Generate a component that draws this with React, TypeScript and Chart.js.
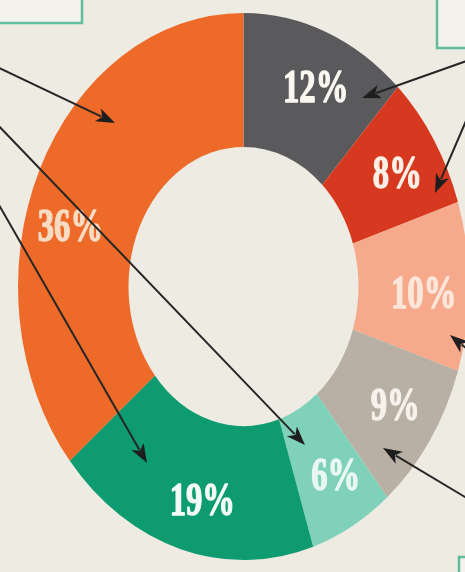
import React, { useEffect, useRef } from "react";
import { Chart, registerables } from "chart.js";

Chart.register(...registerables);

// ---- data ----
const segmentNames = ["Segment A", "Segment B", "Segment C", "Segment D", "Segment E", "Segment F", "Segment G"];
const shareValues = [12, 8, 10, 9, 6, 19, 36];
const shareLabels = ["12%", "8%", "10%", "9%", "6%", "19%", "36%"];

// ---- styles ----
const segmentColors = ["#5a5a5c", "#d6391f", "#f6a98b", "#b8b0a5", "#80d1ba", "#0d9b6f", "#ee6a28"];
const labelColors = ["#fbf8f2", "#fbefe6", "#fbe6da", "#f6f1ea", "#e9f7f2", "#f4faf6", "#f7dcc4"];
const labelNudgeDeg = [2, 1, 1.5, -1.5, -2, -3, -9];
const V_STRETCH = 1.213;

// annotation decorations (arrows: [x1, y1, tipX, tipY])
const arrowLines = [
  [-5, 66, 115, 123],
  [-5, 122, 305, 445],
  [-5, 198, 147, 463],
  [475, 58, 362, 98],
  [475, 100, 435, 193],
  [478, 358, 450, 335],
  [475, 503, 383, 448],
];
const frameBoxes = [
  [-5, -5, 87, 28],
  [437, -5, 40, 53],
  [459, 557, 30, 30],
];

const donutDecor = {
  id: "donutDecor",
  beforeDraw(chart: any) {
    const ctx = chart.ctx;
    ctx.save();
    ctx.strokeStyle = "#60bd9e";
    ctx.lineWidth = 2.5;
    ctx.fillStyle = "#f4f2ec";
    frameBoxes.forEach(([x, y, w, h]) => {
      ctx.fillRect(x, y, w, h);
      ctx.strokeRect(x, y, w, h);
    });
    ctx.restore();
  },
  beforeDatasetsDraw(chart: any) {
    const el = chart.getDatasetMeta(0).data[0];
    const cy = el.y;
    const ctx = chart.ctx;
    ctx.save();
    ctx.translate(0, cy);
    ctx.scale(1, V_STRETCH);
    ctx.translate(0, -cy);
  },
  afterDatasetsDraw(chart: any) {
    const ctx = chart.ctx;
    const meta = chart.getDatasetMeta(0);
    meta.data.forEach((el: any, i: number) => {
      const p = el.getProps(["x", "y", "startAngle", "endAngle", "innerRadius", "outerRadius"], true);
      const mid = (p.startAngle + p.endAngle) / 2 + (labelNudgeDeg[i] * Math.PI) / 180;
      const r = p.innerRadius + (p.outerRadius - p.innerRadius) * 0.59;
      const px = p.x + Math.cos(mid) * r;
      const py = p.y + Math.sin(mid) * r;
      ctx.save();
      ctx.translate(px, py);
      ctx.scale(0.86, 1);
      ctx.font = "bold 38px 'Liberation Serif', 'DejaVu Serif', serif";
      ctx.textAlign = "center";
      ctx.textBaseline = "alphabetic";
      ctx.fillStyle = labelColors[i];
      ctx.strokeStyle = labelColors[i];
      ctx.lineWidth = 1.2;
      ctx.lineJoin = "round";
      ctx.fillText(shareLabels[i], 0, 13);
      ctx.strokeText(shareLabels[i], 0, 13);
      ctx.restore();
    });
    ctx.restore();
  },
  afterDraw(chart: any) {
    const ctx = chart.ctx;
    ctx.save();
    ctx.strokeStyle = "#262626";
    ctx.fillStyle = "#1e1e1e";
    ctx.lineWidth = 2;
    arrowLines.forEach(([x1, y1, x2, y2]) => {
      const a = Math.atan2(y2 - y1, x2 - x1);
      const len = 19;
      const half = 7;
      const bx = x2 - Math.cos(a) * len;
      const by = y2 - Math.sin(a) * len;
      ctx.beginPath();
      ctx.moveTo(x1, y1);
      ctx.lineTo(bx + Math.cos(a) * 4, by + Math.sin(a) * 4);
      ctx.stroke();
      ctx.beginPath();
      ctx.moveTo(x2, y2);
      ctx.lineTo(bx + Math.cos(a + Math.PI / 2) * half, by + Math.sin(a + Math.PI / 2) * half);
      ctx.lineTo(bx + Math.cos(a) * 5, by + Math.sin(a) * 5);
      ctx.lineTo(bx + Math.cos(a - Math.PI / 2) * half, by + Math.sin(a - Math.PI / 2) * half);
      ctx.closePath();
      ctx.fill();
    });
    ctx.restore();
  },
};

export default function App() {
  const canvasRef = useRef<HTMLCanvasElement | null>(null);

  useEffect(() => {
    if (!canvasRef.current) return;
    const chart = new Chart(canvasRef.current, {
      type: "doughnut",
      data: {
        labels: segmentNames,
        datasets: [
          {
            data: shareValues,
            backgroundColor: segmentColors,
            borderWidth: 0,
          },
        ],
      },
      options: {
        responsive: false,
        animation: false,
        events: [],
        cutout: "51%",
        layout: { padding: { left: 18, right: 18, top: 61, bottom: 60 } },
        plugins: {
          legend: { display: false },
          tooltip: { enabled: false },
          title: { display: false },
        },
      },
      plugins: [donutDecor],
    });
    return () => chart.destroy();
  }, []);

  return (
    <div
      style={{
        position: "fixed",
        left: 0,
        top: 0,
        width: 465,
        height: 572,
        overflow: "hidden",
        background: "#eeebe3",
      }}
    >
      <canvas ref={canvasRef} width={487} height={572} style={{ display: "block" }} />
    </div>
  );
}
